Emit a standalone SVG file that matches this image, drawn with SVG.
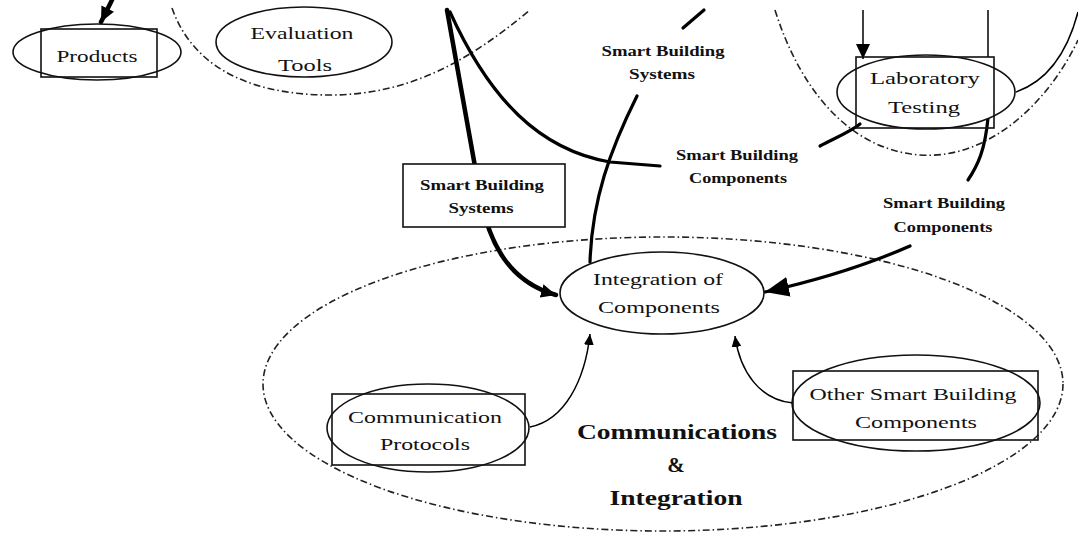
<svg xmlns="http://www.w3.org/2000/svg" width="1078" height="535" viewBox="0 0 1078 535">
<style>
.bg{fill:#fff}
.dd{fill:none;stroke:#222;stroke-width:1.6;stroke-dasharray:7 3 1.5 3}
.nd{fill:#fff;stroke:#111;stroke-width:1.6}
.ndn{fill:none;stroke:#111;stroke-width:1.6}
.t{font-family:"Liberation Serif","Times New Roman",serif;font-size:17px;fill:#111;text-anchor:middle}
.lb{font-family:"Liberation Serif","Times New Roman",serif;font-size:14px;font-weight:bold;fill:#111;text-anchor:middle}
.bt{font-family:"Liberation Serif","Times New Roman",serif;font-size:21px;font-weight:bold;fill:#111;text-anchor:middle}
.thk{fill:none;stroke:#000;stroke-width:4.5;stroke-linecap:round}
.mid{fill:none;stroke:#000;stroke-width:3.2;stroke-linecap:round}
.thn{fill:none;stroke:#000;stroke-width:1.5}
</style>
<defs>
<marker id="big" markerUnits="userSpaceOnUse" markerWidth="26" markerHeight="22" refX="24" refY="10" orient="auto"><path d="M0,0 L24,10 L0,20 z" fill="#000"/></marker>
<marker id="med" markerUnits="userSpaceOnUse" markerWidth="16" markerHeight="14" refX="15" refY="7" orient="auto"><path d="M0,0 L15,7 L0,14 z" fill="#000"/></marker>
<marker id="sm" markerUnits="userSpaceOnUse" markerWidth="12" markerHeight="10" refX="11" refY="5" orient="auto"><path d="M0,0 L11,5 L0,10 z" fill="#000"/></marker>
</defs>
<rect class="bg" x="0" y="0" width="1078" height="535"/>

<g id="boundaries">
<path class="dd" d="M172 8 C190 60 240 95 330 95 C410 95 470 60 530 10"/>
<path class="dd" d="M775 10 C800 90 850 150 920 155 C990 160 1050 100 1078 40"/>
<ellipse class="dd" cx="663" cy="384" rx="400" ry="147"/>
</g>

<g id="connectors">
<path class="thk" d="M112 0 L101 22" marker-end="url(#med)"/>
<path class="thk" d="M447 10 L481 200 C490 245 510 282 556 295" marker-end="url(#med)"/>
<path class="mid" d="M450 12 C490 100 540 150 610 162 L660 166"/>
<path class="mid" d="M820 146 C835 138 850 132 860 124"/>
<path class="mid" d="M637 96 C610 150 592 200 590 262"/>
<path class="mid" d="M683 28 L704 10"/>
<path class="thn" d="M863 10 L863 59" marker-end="url(#med)"/>
<path class="thn" d="M988 10 L988 57"/>
<path class="thn" d="M1016 92 C1050 80 1068 50 1078 12"/>
<path class="mid" d="M988 118 C985 150 978 165 968 180"/>
<path class="mid" d="M910 246 C860 268 810 282 765 292" marker-end="url(#big)"/>
<path class="thn" d="M530 427 C565 420 585 380 590 334" marker-end="url(#sm)"/>
<path class="thn" d="M793 403 C760 400 740 372 735 336" marker-end="url(#sm)"/>
</g>

<g id="products">
<ellipse class="nd" cx="97" cy="52" rx="84" ry="28"/>
<rect class="ndn" x="41" y="29" width="116" height="48"/>
<text class="t" x="97" y="62" textLength="81" lengthAdjust="spacingAndGlyphs">Products</text>
</g>

<g id="evaluation-tools">
<ellipse class="nd" cx="304" cy="42" rx="88" ry="35"/>
<text class="t" x="302" y="39" textLength="103" lengthAdjust="spacingAndGlyphs">Evaluation</text>
<text class="t" x="305" y="71" textLength="54" lengthAdjust="spacingAndGlyphs">Tools</text>
</g>

<g id="laboratory-testing">
<ellipse class="nd" cx="926" cy="92" rx="89" ry="37"/>
<rect class="ndn" x="856" y="57" width="138" height="71"/>
<text class="t" x="925" y="84" textLength="110" lengthAdjust="spacingAndGlyphs">Laboratory</text>
<text class="t" x="924" y="113" textLength="72" lengthAdjust="spacingAndGlyphs">Testing</text>
</g>

<g id="label-systems-top">
<text class="lb" x="663" y="56" textLength="123" lengthAdjust="spacingAndGlyphs">Smart Building</text>
<text class="lb" x="662" y="79" textLength="66" lengthAdjust="spacingAndGlyphs">Systems</text>
</g>

<g id="label-components-mid">
<text class="lb" x="737" y="160" textLength="122" lengthAdjust="spacingAndGlyphs">Smart Building</text>
<text class="lb" x="738" y="183" textLength="98" lengthAdjust="spacingAndGlyphs">Components</text>
</g>

<g id="label-systems-box">
<rect class="nd" x="403" y="164" width="162" height="63"/>
<text class="lb" x="482" y="190" textLength="124" lengthAdjust="spacingAndGlyphs">Smart Building</text>
<text class="lb" x="481" y="213" textLength="65" lengthAdjust="spacingAndGlyphs">Systems</text>
</g>

<g id="label-components-right">
<text class="lb" x="944" y="208" textLength="122" lengthAdjust="spacingAndGlyphs">Smart Building</text>
<text class="lb" x="943" y="232" textLength="99" lengthAdjust="spacingAndGlyphs">Components</text>
</g>

<g id="integration-of-components">
<ellipse class="nd" cx="662" cy="293" rx="102" ry="41"/>
<text class="t" x="658" y="285" textLength="130" lengthAdjust="spacingAndGlyphs">Integration of</text>
<text class="t" x="659" y="313" textLength="122" lengthAdjust="spacingAndGlyphs">Components</text>
</g>

<g id="communication-protocols">
<ellipse class="nd" cx="428" cy="428" rx="101" ry="44"/>
<rect class="ndn" x="332" y="394" width="193" height="71"/>
<text class="t" x="425" y="423" textLength="154" lengthAdjust="spacingAndGlyphs">Communication</text>
<text class="t" x="425" y="450" textLength="90" lengthAdjust="spacingAndGlyphs">Protocols</text>
</g>

<g id="other-smart-building-components">
<ellipse class="nd" cx="916" cy="403" rx="124" ry="48"/>
<rect class="ndn" x="793" y="371" width="245" height="69"/>
<text class="t" x="913" y="400" textLength="207" lengthAdjust="spacingAndGlyphs">Other Smart Building</text>
<text class="t" x="916" y="428" textLength="122" lengthAdjust="spacingAndGlyphs">Components</text>
</g>

<g id="communications-integration-label">
<text class="bt" x="677" y="439" textLength="200" lengthAdjust="spacingAndGlyphs">Communications</text>
<text class="bt" x="676" y="472">&amp;</text>
<text class="bt" x="676" y="505" textLength="133" lengthAdjust="spacingAndGlyphs">Integration</text>
</g>
</svg>
